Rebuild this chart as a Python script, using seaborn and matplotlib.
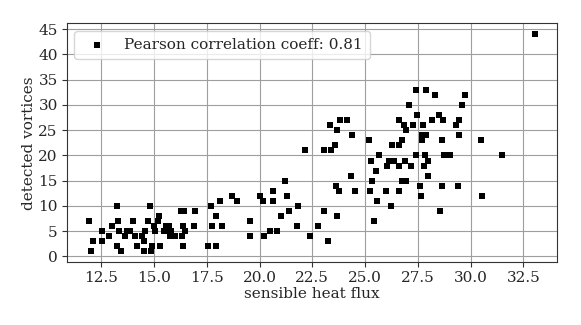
import numpy as np
import pandas as pd
import matplotlib
matplotlib.use("Agg")
import matplotlib.pyplot as plt
import seaborn as sns

# sensible heat flux vs number of detected vortices
heat_flux = [
    11.93, 12.03, 12.13, 12.52, 12.55, 12.87, 13.03, 13.24, 13.25, 13.31,
    13.34, 13.45, 13.61, 13.71, 13.89, 14.03, 14.10, 14.20, 14.45, 14.52,
    14.55, 14.59, 14.71, 14.82, 14.85, 14.89, 14.99, 15.04, 15.17, 15.25,
    15.27, 15.48, 15.57, 15.69, 15.71, 15.75, 15.82, 15.90, 15.99, 16.27,
    16.31, 16.36, 16.38, 16.43, 16.48, 16.89, 16.96, 17.57, 17.68, 17.75,
    17.92, 17.96, 18.11, 18.20, 18.69, 18.94, 19.55, 19.57, 20.03, 20.17,
    20.20, 20.48, 20.66, 20.66, 20.83, 21.01, 21.22, 21.32, 21.39, 21.76,
    21.82, 22.13, 22.39, 22.76, 23.03, 23.04, 23.22, 23.34, 23.38, 23.57,
    23.61, 23.68, 23.69, 23.78, 23.82, 24.13, 24.31, 24.36, 24.54, 25.17,
    25.22, 25.27, 25.34, 25.43, 25.52, 25.54, 25.66, 25.99, 26.04, 26.15,
    26.24, 26.25, 26.38, 26.59, 26.62, 26.62, 26.62, 26.73, 26.76, 26.82,
    26.89, 26.94, 26.94, 27.08, 27.18, 27.25, 27.39, 27.43, 27.46, 27.61,
    27.64, 27.68, 27.71, 27.75, 27.80, 27.85, 27.87, 27.89, 27.97, 27.99,
    28.17, 28.31, 28.52, 28.55, 28.62, 28.66, 28.69, 28.73, 28.89, 29.04,
    29.32, 29.39, 29.43, 29.46, 29.61, 29.75, 30.50, 30.52, 31.46, 33.04,
]
vortices = [
    7, 1, 3, 5, 3, 4, 6, 10, 2, 7,
    5, 1, 4, 5, 5, 7, 4, 2, 4, 3,
    1, 5, 7, 10, 1, 2, 6, 5, 7, 8,
    2, 5, 6, 5, 6, 4, 5, 4, 4, 9,
    4, 6, 2, 9, 5, 6, 9, 2, 10, 6,
    2, 8, 11, 6, 12, 11, 7, 4, 12, 11,
    4, 5, 13, 11, 5, 8, 15, 12, 9, 6,
    10, 21, 4, 6, 9, 21, 3, 26, 21, 22,
    14, 25, 8, 13, 27, 27, 16, 24, 13, 23,
    13, 19, 15, 7, 17, 11, 20, 13, 18, 19,
    10, 22, 19, 18, 27, 13, 22, 23, 15, 26,
    19, 25, 15, 30, 18, 26, 33, 20, 28, 14,
    12, 23, 24, 26, 18, 20, 24, 33, 19, 16,
    27, 32, 28, 9, 23, 14, 27, 20, 20, 20,
    26, 14, 24, 27, 30, 32, 23, 12, 20, 44,
]
legend_label = "Pearson correlation coeff: 0.81"

df = pd.DataFrame({"flux": heat_flux, "vortices": vortices})

sns.set_style("whitegrid")
plt.rcParams["font.family"] = ["DejaVu Serif"]
plt.rcParams["axes.edgecolor"] = "0.2"
plt.rcParams["grid.color"] = "0.62"
plt.rcParams["xtick.bottom"] = True
plt.rcParams["ytick.left"] = True

fig, ax = plt.subplots(figsize=(5.81, 3.25), dpi=100)
sns.scatterplot(data=df, x="flux", y="vortices", marker="s", color="black",
                s=20, edgecolor="black", linewidth=0, label=legend_label, ax=ax)
ax.set_xticks(np.arange(12.5, 33, 2.5))
ax.set_yticks(np.arange(0, 46, 5))
ax.tick_params(labelsize=11, length=3.5, color="0.2", pad=3)
ax.set_xlabel("sensible heat flux", fontsize=11, labelpad=1)
ax.set_ylabel("detected vortices", fontsize=11, labelpad=2)
ax.legend(loc="upper left", fontsize=11, handletextpad=0.8, borderpad=0.45)
fig.subplots_adjust(left=0.115, right=0.959, top=0.928, bottom=0.193)
fig.savefig("out.png", dpi=100)
